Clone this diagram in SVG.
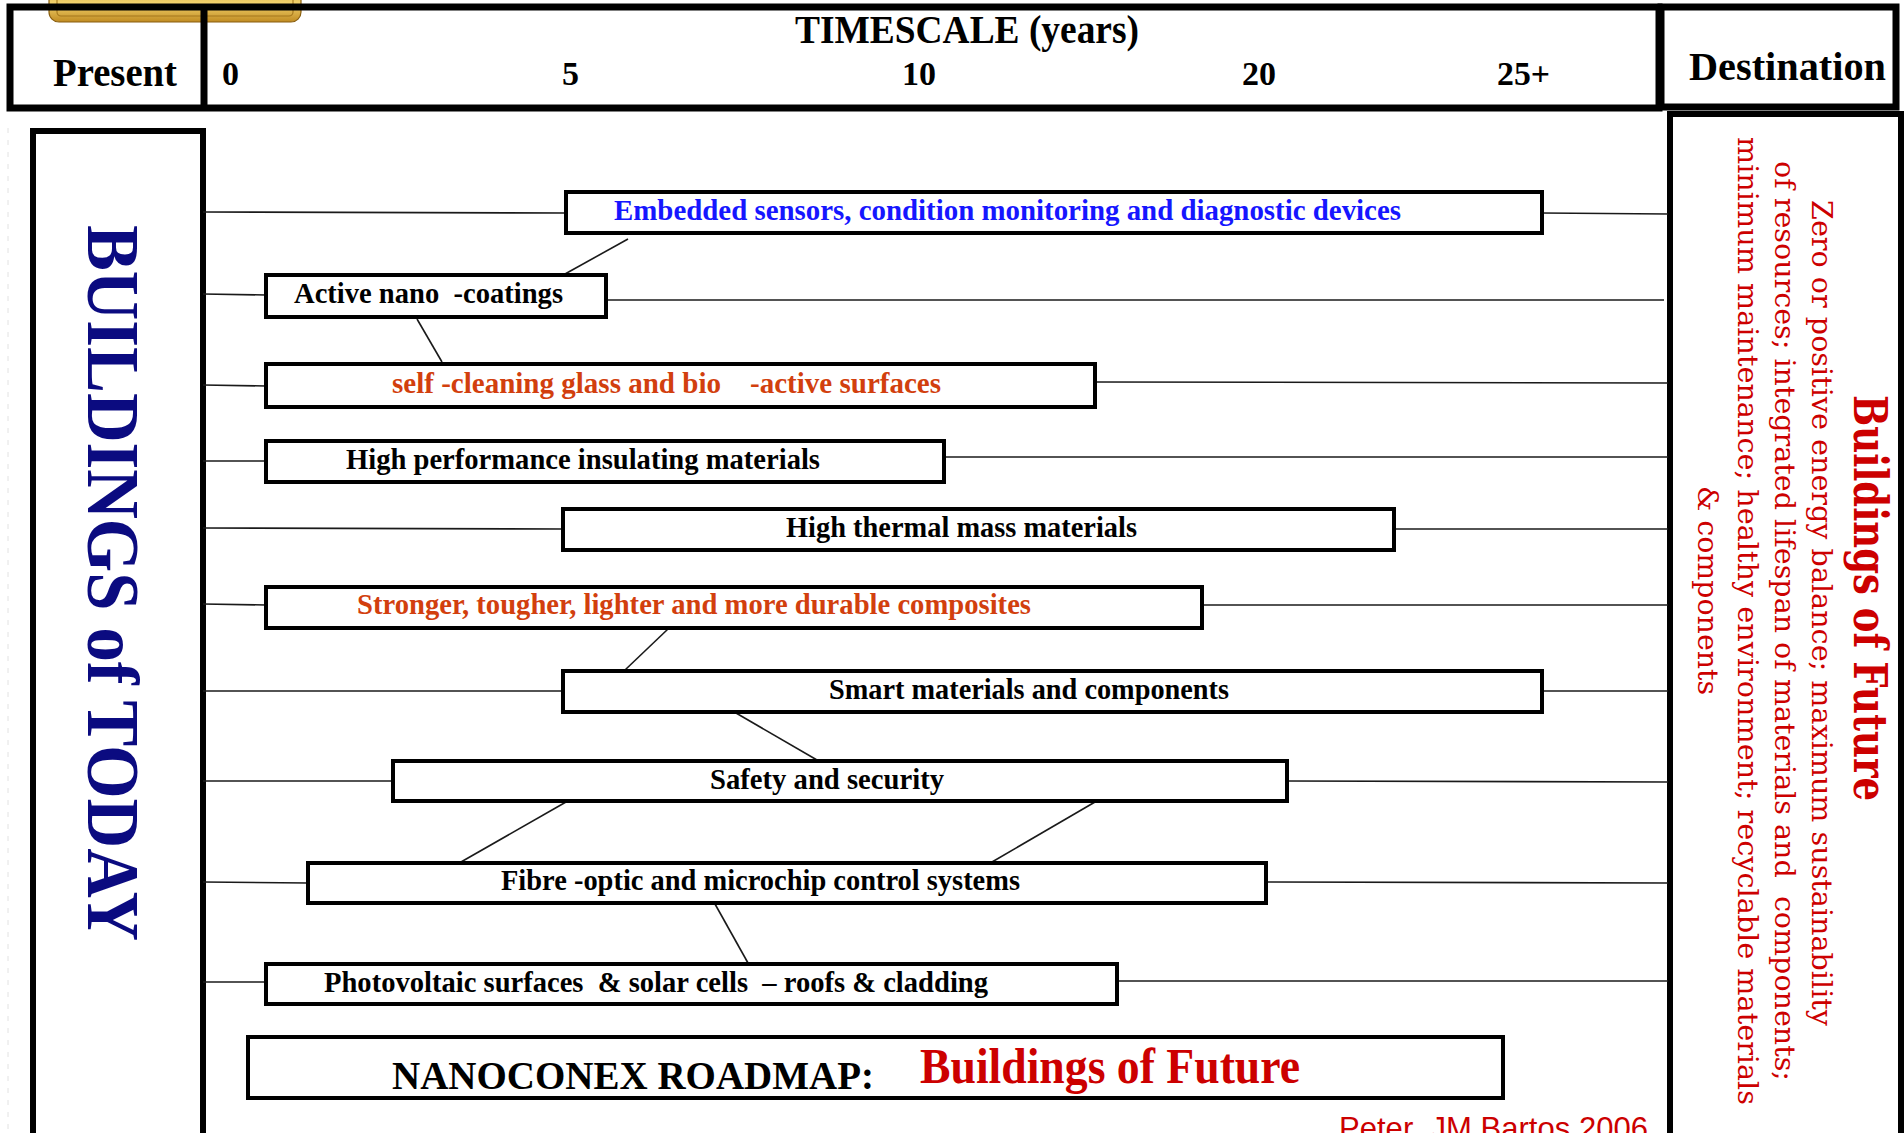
<svg xmlns="http://www.w3.org/2000/svg" width="1904" height="1133" viewBox="0 0 1904 1133">
<defs>
<linearGradient id="gold" x1="0" y1="0" x2="0" y2="1">
<stop offset="0" stop-color="#b9861f"/>
<stop offset="0.55" stop-color="#f4d46e"/>
<stop offset="1" stop-color="#c08b22"/>
</linearGradient>
<style>
.frame{fill:none;stroke:#000;stroke-width:7}
.panel{fill:none;stroke:#000;stroke-width:6}
.box{fill:#fff;stroke:#000;stroke-width:4}
.conn line{stroke:#1a1a1a;stroke-width:1.6}
.lbl{font-family:"Liberation Serif","Times New Roman",serif;font-weight:bold;font-size:30px;fill:#000}
.hdr{font-family:"Liberation Serif","Times New Roman",serif;font-weight:bold;fill:#000}
.blue{fill:#1616ff}
.orange{fill:#d23f0e}
.red{fill:#cc0000}
.side{font-family:"DejaVu Serif","Liberation Serif",serif;fill:#cc0000}
</style>
</defs>
<rect x="0" y="0" width="1904" height="1133" fill="#fff"/>
<line x1="8" y1="128" x2="8" y2="1133" stroke="#e2e2e2" stroke-width="1" stroke-dasharray="5 7"/>

<g id="badge">
<rect x="49" y="-20" width="252" height="42" rx="10" fill="url(#gold)" stroke="#8a5f10" stroke-width="1.2"/>
<rect x="57" y="-20" width="236" height="36" rx="4" fill="none" stroke="#9a6b14" stroke-width="1.2" opacity="0.8"/>
</g>

<g id="header">
<rect class="frame" x="10" y="7" width="1649" height="101"/>
<line x1="204" y1="7" x2="204" y2="108" stroke="#000" stroke-width="7"/>
<rect class="frame" x="1661" y="7" width="235" height="100"/>
<text class="hdr" x="795" y="43" font-size="40" textLength="344" lengthAdjust="spacingAndGlyphs">TIMESCALE (years)</text>
<text class="hdr" x="53" y="86" font-size="40" textLength="124" lengthAdjust="spacingAndGlyphs">Present</text>
<text class="hdr" x="1689" y="80" font-size="41" textLength="197" lengthAdjust="spacingAndGlyphs">Destination</text>
<text class="hdr" x="222" y="85" font-size="34">0</text>
<text class="hdr" x="562" y="85" font-size="34">5</text>
<text class="hdr" x="902" y="85" font-size="34">10</text>
<text class="hdr" x="1242" y="85" font-size="34">20</text>
<text class="hdr" x="1497" y="85" font-size="34" textLength="53" lengthAdjust="spacingAndGlyphs">25+</text>
</g>

<g id="today">
<rect class="panel" x="33" y="131" width="170" height="1010"/>
<text class="hdr" transform="translate(88,225) rotate(90)" font-size="74" style="fill:#0b0b80" textLength="716" lengthAdjust="spacingAndGlyphs">BUILDINGS of TODAY</text>
</g>

<g id="future">
<rect class="panel" x="1670" y="114" width="231" height="1025"/>
<text class="side" transform="translate(1854,395) rotate(90)" font-size="46" font-weight="bold" textLength="406" lengthAdjust="spacingAndGlyphs">Buildings of Future</text>
<text class="side" transform="translate(1812,200) rotate(90)" font-size="27" textLength="826" lengthAdjust="spacingAndGlyphs">Zero or positive energy balance; maximum sustainability</text>
<text class="side" transform="translate(1775,161) rotate(90)" font-size="27" textLength="920" lengthAdjust="spacingAndGlyphs" xml:space="preserve">of resources; integrated lifespan of materials and  components;</text>
<text class="side" transform="translate(1738,137) rotate(90)" font-size="27" textLength="968" lengthAdjust="spacingAndGlyphs">minimum maintenance; healthy environment; recyclable materials</text>
<text class="side" transform="translate(1698,486) rotate(90)" font-size="27" textLength="209" lengthAdjust="spacingAndGlyphs">&amp; components</text>
</g>

<g id="connectors" class="conn">
<line x1="203" y1="212" x2="566" y2="213"/>
<line x1="1542" y1="213" x2="1668" y2="214"/>
<line x1="203" y1="294" x2="266" y2="295"/>
<line x1="600" y1="300" x2="1664" y2="300"/>
<line x1="203" y1="385" x2="266" y2="386"/>
<line x1="1095" y1="382" x2="1668" y2="383"/>
<line x1="203" y1="461" x2="266" y2="461"/>
<line x1="944" y1="457" x2="1668" y2="457"/>
<line x1="203" y1="528" x2="563" y2="529"/>
<line x1="1394" y1="529" x2="1668" y2="529"/>
<line x1="203" y1="604" x2="266" y2="605"/>
<line x1="1202" y1="605" x2="1668" y2="605"/>
<line x1="203" y1="691" x2="563" y2="691"/>
<line x1="1542" y1="691" x2="1668" y2="691"/>
<line x1="203" y1="781" x2="393" y2="781"/>
<line x1="1287" y1="781" x2="1668" y2="782"/>
<line x1="203" y1="882" x2="308" y2="883"/>
<line x1="1266" y1="882" x2="1668" y2="883"/>
<line x1="203" y1="982" x2="266" y2="982"/>
<line x1="1117" y1="981" x2="1668" y2="981"/>
<line x1="628" y1="239" x2="565" y2="274"/>
<line x1="417" y1="319" x2="442" y2="362"/>
<line x1="668" y1="629" x2="625" y2="670"/>
<line x1="736" y1="713" x2="817" y2="760"/>
<line x1="566" y1="802" x2="461" y2="862"/>
<line x1="1095" y1="802" x2="992" y2="862"/>
<line x1="715" y1="904" x2="748" y2="963"/>
</g>

<g id="n-embedded">
<rect class="box" x="566" y="192" width="976" height="41"/>
<text class="lbl blue" x="614" y="220" textLength="787" lengthAdjust="spacingAndGlyphs">Embedded sensors, condition monitoring and diagnostic devices</text>
</g>
<g id="n-nanocoatings">
<rect class="box" x="266" y="275" width="340" height="42"/>
<text class="lbl" x="294" y="303" textLength="269" lengthAdjust="spacingAndGlyphs" xml:space="preserve">Active nano  -coatings</text>
</g>
<g id="n-selfcleaning">
<rect class="box" x="266" y="364" width="829" height="43"/>
<text class="lbl orange" x="392" y="393" textLength="549" lengthAdjust="spacingAndGlyphs" xml:space="preserve">self -cleaning glass and bio    -active surfaces</text>
</g>
<g id="n-insulating">
<rect class="box" x="266" y="441" width="678" height="41"/>
<text class="lbl" x="346" y="469" textLength="474" lengthAdjust="spacingAndGlyphs">High performance insulating materials</text>
</g>
<g id="n-thermal">
<rect class="box" x="563" y="509" width="831" height="41"/>
<text class="lbl" x="786" y="537" textLength="351" lengthAdjust="spacingAndGlyphs">High thermal mass materials</text>
</g>
<g id="n-composites">
<rect class="box" x="266" y="587" width="936" height="41"/>
<text class="lbl orange" x="357" y="614" textLength="674" lengthAdjust="spacingAndGlyphs">Stronger, tougher, lighter and more durable composites</text>
</g>
<g id="n-smart">
<rect class="box" x="563" y="671" width="979" height="41"/>
<text class="lbl" x="829" y="699" textLength="400" lengthAdjust="spacingAndGlyphs">Smart materials and components</text>
</g>
<g id="n-safety">
<rect class="box" x="393" y="761" width="894" height="40"/>
<text class="lbl" x="710" y="789" textLength="234" lengthAdjust="spacingAndGlyphs">Safety and security</text>
</g>
<g id="n-fibre">
<rect class="box" x="308" y="863" width="958" height="40"/>
<text class="lbl" x="501" y="890" textLength="519" lengthAdjust="spacingAndGlyphs">Fibre -optic and microchip control systems</text>
</g>
<g id="n-photovoltaic">
<rect class="box" x="266" y="964" width="851" height="40"/>
<text class="lbl" x="324" y="992" textLength="664" lengthAdjust="spacingAndGlyphs" xml:space="preserve">Photovoltaic surfaces  &amp; solar cells  – roofs &amp; cladding</text>
</g>
<g id="n-title">
<rect class="box" x="248" y="1037" width="1255" height="61"/>
<text class="hdr" x="392" y="1089" font-size="40" textLength="482" lengthAdjust="spacingAndGlyphs">NANOCONEX ROADMAP:</text>
<text class="hdr red" x="920" y="1083" font-size="50" textLength="380" lengthAdjust="spacingAndGlyphs">Buildings of Future</text>
</g>
<text x="1339" y="1139" font-family="Liberation Sans, Arial, sans-serif" font-size="32" fill="#cc0000" textLength="309" lengthAdjust="spacingAndGlyphs" xml:space="preserve">Peter  JM Bartos 2006</text>
</svg>
